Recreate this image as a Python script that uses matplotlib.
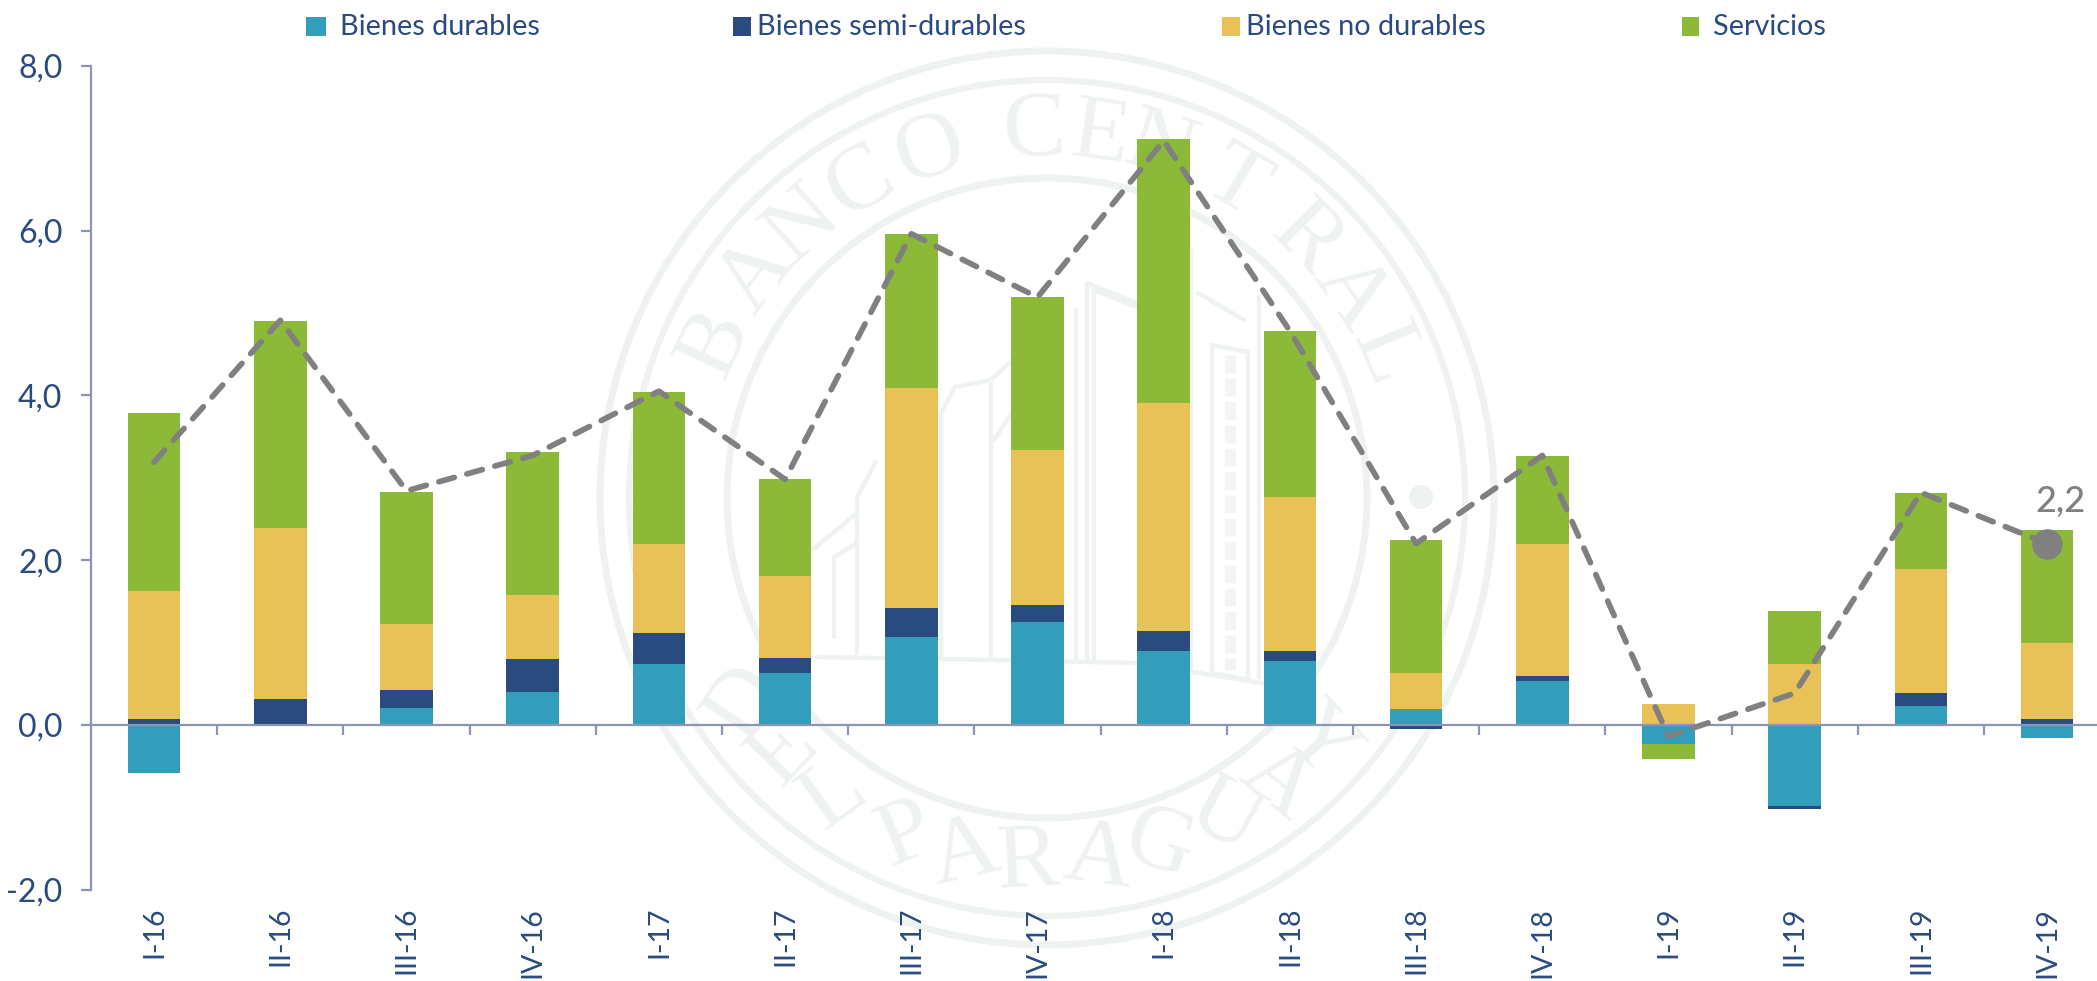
import numpy as np
import matplotlib
matplotlib.use("Agg")
import matplotlib.pyplot as plt
from matplotlib.patches import Circle, Rectangle

W, H = 2097, 981

quarters = ["I-16", "II-16", "III-16", "IV-16", "I-17", "II-17", "III-17", "IV-17",
            "I-18", "II-18", "III-18", "IV-18", "I-19", "II-19", "III-19", "IV-19"]
durables = [-0.58, 0.00, 0.21, 0.40, 0.74, 0.63, 1.07, 1.25, 0.90, 0.77, 0.195, 0.53, -0.23, -0.98, 0.23, -0.16]
semi_durables = [0.07, 0.32, 0.215, 0.40, 0.376, 0.18, 0.35, 0.21, 0.24, 0.13, -0.05, 0.065, 0.00, -0.04, 0.16, 0.07]
no_durables = [1.56, 2.065, 0.795, 0.78, 1.08, 1.00, 2.67, 1.88, 2.77, 1.87, 0.433, 1.595, 0.25, 0.737, 1.505, 0.918]
servicios = [2.16, 2.515, 1.61, 1.73, 1.85, 1.18, 1.87, 1.855, 3.195, 2.01, 1.61, 1.07, -0.187, 0.64, 0.925, 1.38]
total = [3.19, 4.91, 2.84, 3.27, 4.05, 2.98, 5.96, 5.19, 7.09, 4.78, 2.20, 3.27, -0.14, 0.385, 2.82, 2.20]

series_names = ["Bienes durables", "Bienes semi-durables", "Bienes no durables", "Servicios"]
series_colors = ["#339EBB", "#2A4B80", "#E8C157", "#8CB937"]
y_ticks = [-2, 0, 2, 4, 6, 8]

NAVY = "#2A4B80"
AXIS = "#8A96B4"
GRAY = "#808080"
SEAL = "#EEF2F0"

plt.rcParams["font.family"] = ["Lato", "DejaVu Sans"]

fig = plt.figure(figsize=(W / 100, H / 100), dpi=100)

# Watermark, drawn in pixel coordinates behind the chart
seal = fig.add_axes([0, 0, 1, 1], zorder=0)
seal.set_xlim(0, W)
seal.set_ylim(H, 0)
seal.axis("off")
cx, cy = 1047, 498
for radius, lw in [(447, 5), (418, 4.5), (320, 5)]:
    seal.add_patch(Circle((cx, cy), radius, fill=False, ec=SEAL, lw=lw))
seal.add_patch(Circle((1421, 497), 12, fc=SEAL, ec="none"))

top_letters = "BANCOCENTRAL"
top_angles = [-65, -52.6, -41.8, -30.7, -18.7, -2, 8.4, 18, 31, 45, 56, 67]
bottom_letters = "DELPARAGUAY"
bottom_angles = [-56, -46, -35.6, -22.6, -13, -3, 8, 17.8, 29, 39, 48]
for letter, ang in zip(top_letters, top_angles):
    a = np.radians(ang)
    seal.text(cx + 366 * np.sin(a), cy - 366 * np.cos(a), letter, rotation=-ang,
              rotation_mode="anchor", ha="center", va="center", fontsize=68,
              family="Liberation Serif", color=SEAL)
for letter, ang in zip(bottom_letters, bottom_angles):
    a = np.radians(ang)
    seal.text(cx + 366 * np.sin(a), cy + 366 * np.cos(a), letter, rotation=-ang,
              rotation_mode="anchor", ha="center", va="center", fontsize=68,
              family="Liberation Serif", color=SEAL)

# rough outline of the building inside the seal
outlines = [
    ([816, 994, 1137, 1262], [657, 660, 663, 683]),
    ([834, 834, 857], [637, 557, 543]),
    ([857, 857, 876], [653, 497, 462]),
    ([812, 857], [550, 513]),
    ([941, 941, 955, 991, 991], [657, 413, 387, 380, 657]),
    ([991, 1012], [380, 360]),
    ([994, 1012], [440, 413]),
    ([1076, 1076], [660, 310]),
    ([1087, 1087, 1137], [660, 283, 303]),
    ([1094, 1094, 1137], [660, 290, 307]),
    ([1191, 1191], [673, 250]),
    ([1198, 1244], [293, 320]),
    ([1259, 1259], [677, 297]),
    ([1212, 1248, 1248, 1212, 1212], [345, 352, 680, 673, 345]),
]
for xs, ys in outlines:
    seal.plot(xs, ys, color=SEAL, lw=3.2, solid_capstyle="round")
seal.plot([1230, 1230], [355, 670], color="#F2F5F4", lw=8, dashes=(1.6, 0.5))

# Chart
ax = fig.add_axes([91 / W, 1 - 889.7 / H, (W - 91) / W, (889.7 - 65.7) / H], zorder=1)
ax.patch.set_alpha(0)

x = np.arange(len(quarters))
pos_base = np.zeros(len(quarters))
neg_base = np.zeros(len(quarters))
for values, name, color in zip([durables, semi_durables, no_durables, servicios], series_names, series_colors):
    values = np.array(values)
    bottoms = np.where(values >= 0, pos_base, neg_base)
    ax.bar(x, values, 0.416, bottom=bottoms, color=color, label=name, zorder=2)
    pos_base += np.clip(values, 0, None)
    neg_base += np.clip(values, None, 0)

ax.plot(x, total, color=GRAY, lw=4.1, dashes=(2.8, 2.3), dash_capstyle="round", zorder=3)
ax.plot(x[-1], total[-1], "o", color=GRAY, ms=22, mec="none", zorder=4)
ax.annotate("2,2", (x[-1], total[-1]), xytext=(13, 42), textcoords="offset pixels",
            ha="center", va="center", fontsize=26, color=GRAY, fontweight="medium", zorder=4)

ax.set_xlim(-0.5, -0.5 + (W - 91) / 126.2)
ax.set_ylim(-2, 8)
ax.set_yticks(y_ticks, [f"{v:.1f}".replace(".", ",") for v in y_ticks])
ax.set_xticks(x, quarters)
ax.set_xticks(x[:-1] + 0.5, minor=True)

for side in ["top", "right"]:
    ax.spines[side].set_visible(False)
ax.spines["bottom"].set_position(("data", 0))
for side in ["left", "bottom"]:
    ax.spines[side].set_color(AXIS)
    ax.spines[side].set_linewidth(1.6)
    ax.spines[side].set_zorder(2.5)

ax.tick_params(axis="y", length=7.5, width=1.6, color=AXIS, labelcolor=NAVY, labelsize=23, pad=13)
ax.tick_params(axis="x", which="major", length=0, labelcolor=NAVY, labelsize=20.5,
               labelrotation=90, pad=131)
ax.tick_params(axis="x", which="minor", length=7.5, width=1.6, color=AXIS)

# Legend entries are unevenly spaced in the original, so they are placed by hand
legend_swatch = [306, 733, 1222, 1682]
legend_swatch_w = [20, 18, 18, 17]
legend_text = [340, 757, 1246, 1713]
for name, color, sx, sw, tx in zip(series_names, series_colors, legend_swatch, legend_swatch_w, legend_text):
    seal.add_patch(Rectangle((sx, 17), sw, 19, fc=color, ec="none"))
    seal.text(tx, 27, name, ha="left", va="center", fontsize=20.8, color=NAVY)

fig.savefig("out.png", dpi=100)
